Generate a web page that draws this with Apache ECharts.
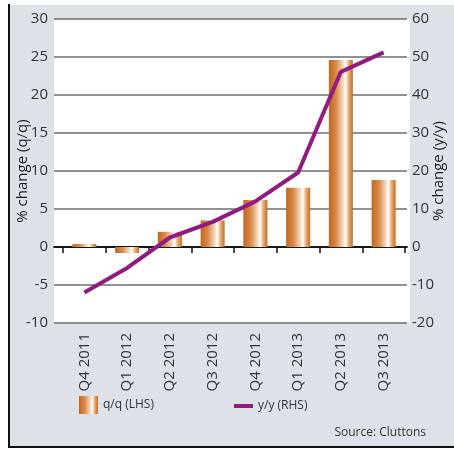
<!DOCTYPE html>
<html>
<head>
<meta charset="utf-8">
<style>
  html, body { margin: 0; padding: 0; background: #ffffff; }
  #chart { width: 454px; height: 450px; }
</style>
<script src="https://cdn.jsdelivr.net/npm/echarts@6/dist/echarts.min.js"></script>
</head>
<body>
<div id="chart"></div>
<script>
// Quarterly residential price change
const categories = ['Q4 2011', 'Q1 2012', 'Q2 2012', 'Q3 2012', 'Q4 2012', 'Q1 2013', 'Q2 2013', 'Q3 2013'];
const qoq = [0.4, -0.8, 2.0, 3.5, 6.2, 7.8, 24.6, 8.8];   // % change q/q, left axis
const yoy = [-12, -5.5, 2.5, 6.6, 12, 19.6, 46.1, 51.2];  // % change y/y, right axis

const FONT = '"Open Sans", "Noto Sans", sans-serif';
const TXT = '#333333';

const barGradient = new echarts.graphic.LinearGradient(0, 0, 1, 0, [
  { offset: 0, color: '#c4661f' },
  { offset: 0.3, color: '#d88a48' },
  { offset: 0.6, color: '#f6dcc4' },
  { offset: 0.7, color: '#ffffff' },
  { offset: 0.82, color: '#eab07c' },
  { offset: 1, color: '#c8691f' }
]);

const chart = echarts.init(document.getElementById('chart'), null, { renderer: 'canvas' });

chart.setOption({
  backgroundColor: '#ffffff',
  animation: false,
  graphic: [
    { type: 'rect', shape: { x: 10, y: 5, width: 444, height: 441 }, style: { fill: '#dde2e9' }, z: -10 },
    { type: 'rect', shape: { x: 8, y: 4, width: 2, height: 444 }, style: { fill: '#111111' }, z: -9 },
    { type: 'rect', shape: { x: 8, y: 446, width: 446, height: 2 }, style: { fill: '#111111' }, z: -9 },
    { type: 'rect', shape: { x: 54, y: 19, width: 356, height: 304 }, style: { fill: '#ffffff' }, z: -8 },
    {
      type: 'text', right: 28, top: 427,
      style: { text: 'Source: Cluttons', font: '12px ' + FONT, fill: TXT }
    }
  ],
  grid: [
    { left: 54, right: 44, top: 19, bottom: 127 },
    { left: 63, right: 49, top: 19, bottom: 127 }
  ],
  xAxis: [
    {
      gridIndex: 0, type: 'category', data: categories, position: 'bottom',
      axisLine: { show: true, lineStyle: { color: '#111', width: 1.5 } },
      axisTick: { show: false }, axisLabel: { show: false }, splitLine: { show: false }
    },
    {
      gridIndex: 0, type: 'category', data: categories, position: 'top',
      axisLine: { show: true, lineStyle: { color: '#111', width: 1.5 } },
      axisTick: { show: false }, axisLabel: { show: false }, splitLine: { show: false }
    },
    {
      gridIndex: 1, type: 'category', data: categories, position: 'bottom',
      axisLine: { show: false },
      axisTick: { show: true, length: 6, lineStyle: { color: '#111', width: 1.5 } },
      axisLabel: { rotate: 90, margin: 10, fontSize: 15, fontFamily: FONT, color: TXT },
      splitLine: { show: false }
    }
  ],
  yAxis: [
    {
      gridIndex: 0, type: 'value', min: -10, max: 30, interval: 5, position: 'left',
      name: '% change (q/q)', nameLocation: 'middle', nameGap: 24, nameRotate: 90,
      nameMoveOverlap: false,
      nameTextStyle: { fontSize: 15, fontFamily: FONT, color: '#1a1a1a' },
      axisLine: { show: false }, axisTick: { show: false },
      axisLabel: { margin: 6, fontSize: 15, fontFamily: FONT, color: TXT },
      splitLine: { show: true, lineStyle: { color: '#6e6e6e', width: 1.5 } }
    },
    {
      gridIndex: 0, type: 'value', min: -20, max: 60, interval: 10, position: 'right',
      name: '% change (y/y)', nameLocation: 'middle', nameGap: 24, nameRotate: 90,
      nameMoveOverlap: false,
      nameTextStyle: { fontSize: 15, fontFamily: FONT, color: '#1a1a1a' },
      axisLine: { show: false }, axisTick: { show: false },
      axisLabel: { margin: 5, fontSize: 15, fontFamily: FONT, color: TXT },
      splitLine: { show: false }
    },
    { gridIndex: 1, type: 'value', min: -10, max: 30, interval: 5, show: false },
    { gridIndex: 1, type: 'value', min: -20, max: 60, interval: 10, show: false }
  ],
  legend: [
    {
      left: 74, top: 391, data: ['q/q (LHS)'],
      icon: 'rect', itemWidth: 19, itemHeight: 18, itemGap: 0,
      textStyle: { fontSize: 12, fontFamily: FONT, color: TXT }
    },
    {
      left: 229, top: 395, data: ['y/y (RHS)'],
      icon: 'rect', itemWidth: 19, itemHeight: 4, itemGap: 0,
      textStyle: { fontSize: 12, fontFamily: FONT, color: TXT }
    }
  ],
  series: [
    {
      name: 'q/q (LHS)', type: 'bar', data: qoq,
      xAxisIndex: 2, yAxisIndex: 2, barWidth: 24,
      itemStyle: { color: barGradient }
    },
    {
      name: 'y/y (RHS)', type: 'line', data: yoy,
      xAxisIndex: 2, yAxisIndex: 3,
      showSymbol: false, symbol: 'none',
      itemStyle: { color: '#901c80' },
      lineStyle: { color: '#901c80', width: 4 },
      z: 5
    }
  ]
});
</script>
</body>
</html>
